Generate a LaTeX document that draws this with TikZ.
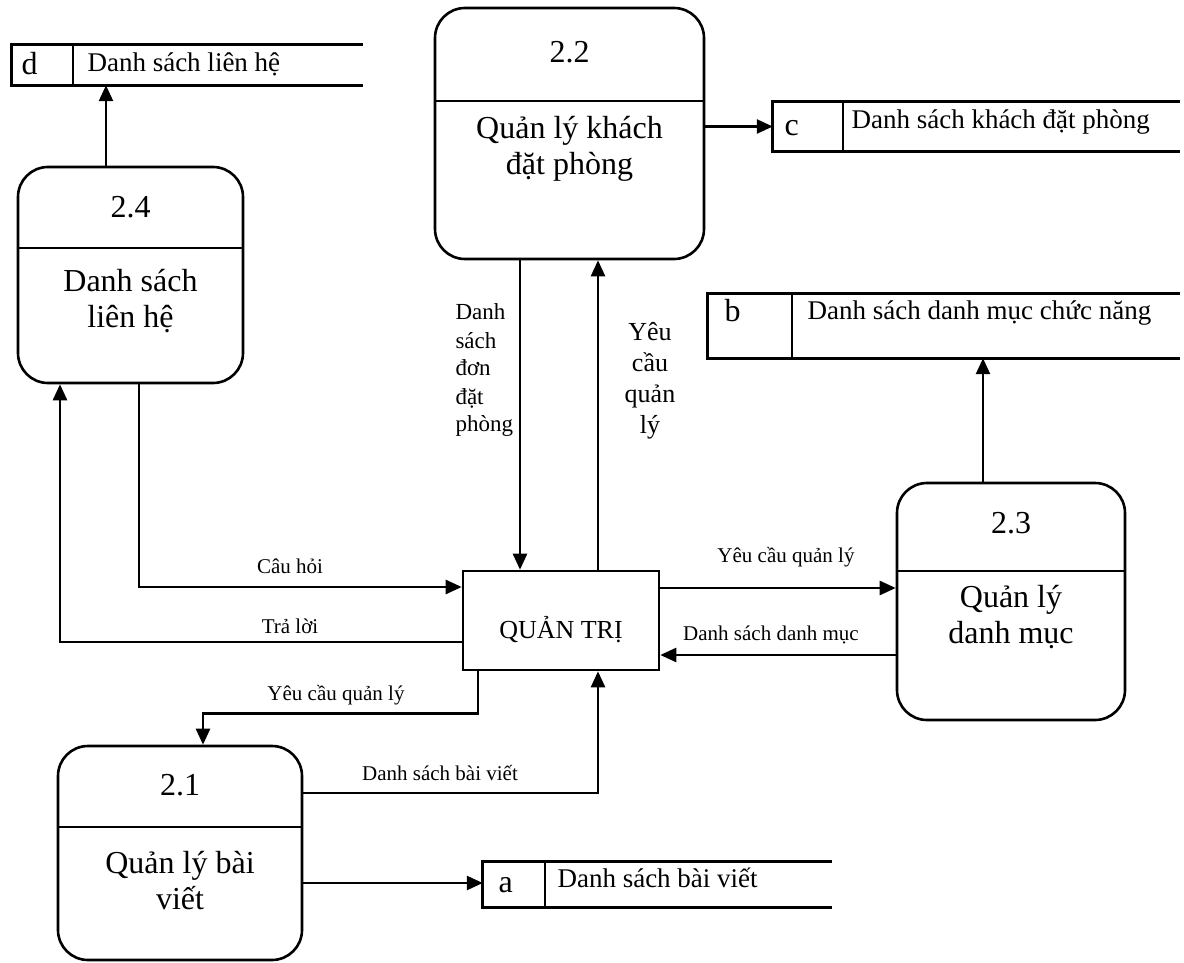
\documentclass[tikz,border=0pt]{standalone}
\usepackage{fontspec}
\setmainfont{Liberation Serif}
\usetikzlibrary{arrows.meta,fit}

\begin{document}
\begin{tikzpicture}[
    x=1pt,
    y=-1pt,
    >={Triangle[length=16pt,width=14pt]},
    process/.style={draw, line width=2.6pt, rounded corners=30pt, inner sep=0pt},
    procnum/.style={font=\fontsize{32}{36}\selectfont},
    proctext/.style={align=center, font=\fontsize{32}{36}\selectfont},
    storebox/.style={inner sep=0pt},
    storeline/.style={line width=2.8pt},
    storeid/.style={anchor=base west, font=\fontsize{32}{36}\selectfont},
    storetext/.style={anchor=base west, font=\fontsize{27}{30}\selectfont},
    entity/.style={draw, line width=2.6pt, minimum width=196pt, minimum height=99pt,
        text height=40pt, text depth=5pt, font=\fontsize{26}{30}\selectfont},
    flow/.style={->, line width=2.5pt},
    flowlabel/.style={font=\fontsize{21}{24}\selectfont}
]

\path[use as bounding box] (0,0) rectangle (1184,963);

% Processes: rounded box, number on top, name below the divider.
\foreach \pname/\pl/\pt/\pr/\pb/\pdv/\pny/\pty/\pnum/\ptxt in {
    p22/435/8/704/259/101/52/149/2.2/Quản lý khách\\đặt phòng,
    p24/18/167/243/383/248/207/301.5/2.4/Danh sách\\liên hệ,
    p23/897/483/1125/720/571/523/617/2.3/Quản lý\\danh mục,
    p21/58/746/302/960/827/785/881/2.1/Quản lý bài\\viết
} {
    \node[process, fit={(\pl,\pt) (\pr,\pb)}] (\pname) {};
    \draw[line width=2.6pt] (\pl,\pdv) -- (\pr,\pdv);
    \node[procnum] (\pname-num) at ({(\pl+\pr)/2},\pny) {\pnum};
    \node[proctext] (\pname-txt) at ({(\pl+\pr)/2},\pty) {\ptxt};
}

% Data stores, open on the right.
\foreach \sname/\sl/\st/\sr/\sb/\sdv/\sidx/\sidy/\stx/\sty/\sid/\stxt in {
    sd/12/45/363/85/73/18/75/84/72/d/Danh sách liên hệ,
    sc/773/102/1180/151/843/781/136/848/129/c/Danh sách khách đặt phòng,
    sb/708/294/1180/358/792/721/321/804/319/b/Danh sách danh mục chức năng,
    sa/483/862/832/907/545/495/892/554/887/a/Danh sách bài viết
} {
    \node[storebox, fit={(\sl,\st) (\sr,\sb)}] (\sname) {};
    \draw[storeline] (\sname.north east) -- (\sname.north west)
        -- (\sname.south west) -- (\sname.south east);
    \draw[storeline] (\sdv,\st) -- (\sdv,\sb);
    \node[storeid] (\sname-id) at (\sidx,\sidy) {\sid};
    \node[storetext] (\sname-txt) at (\stx,\sty) {\stxt};
}

% External entity.
\node[entity] (qt) at (561,620.5) {QUẢN TRỊ};

% Process to store.
\draw[flow] ([xshift=-24.5pt]p24.north) -- ([xshift=-24.5pt]p24.north |- sd.south);
\draw[flow] ([yshift=7pt]p22.east) -- ([yshift=7pt]p22.east -| sc.west);
\draw[flow] ([xshift=-28pt]p23.north) -- ([xshift=-28pt]p23.north |- sb.south);
\draw[flow] ([yshift=-30pt]p21.east) -- ([yshift=-30pt]p21.east -| sa.west);

% Flows between QUẢN TRỊ and the processes.
\draw[flow] ([xshift=-49.5pt]p22.south) -- ([xshift=-49.5pt]p22.south |- qt.north);
\draw[flow] ([xshift=37pt]qt.north) -- ([xshift=37pt]qt.north |- p22.south);
\draw[flow] ([xshift=8.5pt]p24.south) |- ([yshift=33.5pt]qt.west);
\draw[flow] ([yshift=-21.5pt]qt.west) -| ([xshift=-70.5pt]p24.south);
\draw[flow] ([yshift=32.5pt]qt.east) -- ([yshift=32.5pt]qt.east -| p23.west);
\draw[flow] ([yshift=-34.5pt]qt.east -| p23.west) -- ([yshift=-34.5pt]qt.east);
\draw[flow] ([xshift=-83pt]qt.south) -- ++(0,42) -| ([xshift=23pt]p21.north);
\draw[flow] ([yshift=60pt]p21.east) -| ([xshift=37pt]qt.south);

% Flow labels.
\node[flowlabel] (lhoi) at (290,566) {Câu hỏi};
\node[flowlabel] (lloi) at (290,626) {Trả lời};
\node[flowlabel] (lyc3) at (786,557) {Yêu cầu quản lý};
\node[flowlabel] (ldm) at (771,635) {Danh sách danh mục};
\node[flowlabel] (lyc1) at (336,695) {Yêu cầu quản lý};
\node[flowlabel] (lbv) at (440,773) {Danh sách bài viết};
\node[align=left, anchor=west, font=\fontsize{23}{28}\selectfont] (ldon) at (452,370.5)
    {Danh\\sách\\đơn\\đặt\\phòng};
\node[align=center, font=\fontsize{26}{31}\selectfont] (lyc2) at (650,381)
    {Yêu\\cầu\\quản\\lý};

\end{tikzpicture}
\end{document}
